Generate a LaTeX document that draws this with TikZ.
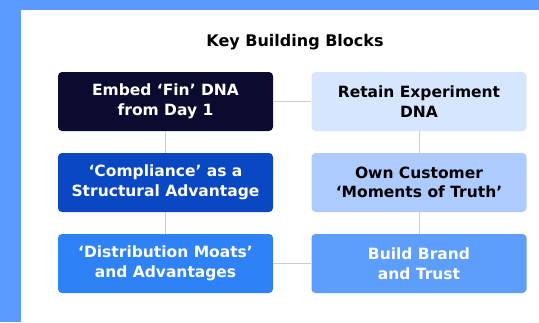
\documentclass[tikz,border=0pt]{standalone}
\usepackage{fontspec}
\setmainfont{DejaVu Sans}
\definecolor{frameblue}{HTML}{5B9BFF}
\definecolor{navyblock}{HTML}{0B0B30}
\definecolor{deepblock}{HTML}{0A47C2}
\definecolor{midblock}{HTML}{2F82F6}
\definecolor{paleblock}{HTML}{D6E6FF}
\definecolor{softblock}{HTML}{AECBFF}
\definecolor{lightblock}{HTML}{5D9DFB}
\definecolor{linkgray}{HTML}{CCCCCC}
\begin{document}
\begin{tikzpicture}[x=1pt,y=-1pt,
  block/.style={rounded corners=4pt,minimum width=215pt,minimum height=59pt,
    inner sep=0pt,align=center,font=\bfseries\fontsize{15.5}{19.5}\selectfont},
  link/.style={draw=linkgray,line width=1pt}]
  % frame and panel
  \fill[frameblue] (0,0) rectangle (539,322);
  \fill[white] (21,10) rectangle (539,322);
  \node[font=\bfseries\fontsize{16}{19}\selectfont] (title) at (295,42) {Key Building Blocks};
  % left column
  \node[block,fill=navyblock,text=white] (fin) at (165.5,101.5) {Embed ‘Fin’ DNA\\from Day 1};
  \node[block,fill=deepblock,text=white] (compliance) at (165.5,182.5) {‘Compliance’ as a\\Structural Advantage};
  \node[block,fill=midblock,text=white] (moats) at (165.5,263.5) {‘Distribution Moats’\\and Advantages};
  % right column
  \node[block,fill=paleblock,text=black] (retain) at (419,101.5) {Retain Experiment\\DNA};
  \node[block,fill=softblock,text=black] (truth) at (419,182.5) {Own Customer\\‘Moments of Truth’};
  \node[block,fill=lightblock,text=white] (brand) at (419,263.5) {Build Brand\\and Trust};
  % connectors
  \draw[link] (fin) -- (retain);
  \draw[link] (fin) -- (compliance);
  \draw[link] (compliance) -- (moats);
  \draw[link] (retain) -- (truth);
  \draw[link] (truth) -- (brand);
  \draw[link] (moats) -- (brand);
\end{tikzpicture}
\end{document}
